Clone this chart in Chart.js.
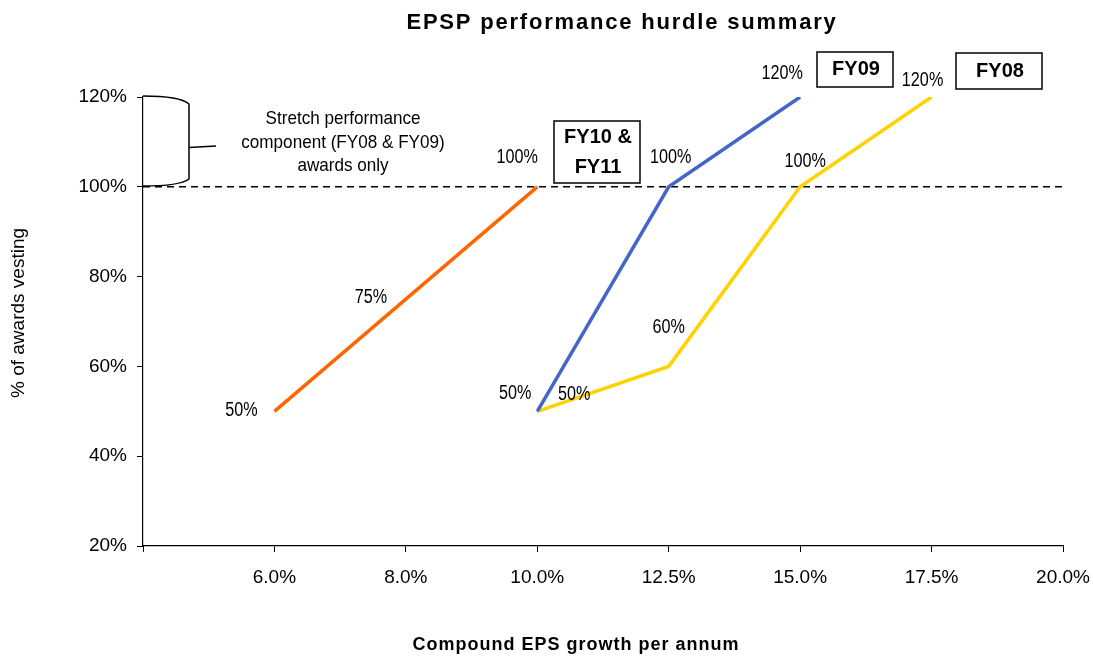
<!DOCTYPE html>
<html>
<head>
<meta charset="utf-8">
<script src="https://cdn.jsdelivr.net/npm/chart.js@4.4.1/dist/chart.umd.min.js"></script>
<style>
  html, body { margin: 0; padding: 0; background: #fff; }
  #wrap { width: 1093px; height: 656px; position: relative; }
</style>
</head>
<body>
<div id="wrap"><canvas id="c" width="1093" height="656"></canvas></div>
<script>
// ---- data ----
const xTickLabels = ['', '6.0%', '8.0%', '10.0%', '12.5%', '15.0%', '17.5%', '20.0%'];
const fy1011X = [1, 2, 3];
const fy1011Y = [50, 75, 100];
const fy09X = [3, 4, 5];
const fy09Y = [50, 100, 120];
const fy08X = [3, 4, 5, 6];
const fy08Y = [50, 60, 100, 120];
const yTicks = [20, 40, 60, 80, 100, 120];
const stretchLevel = 100;

const titleText = 'EPSP performance hurdle summary';
const xTitle = 'Compound EPS growth per annum';
const yTitle = '% of awards vesting';
const noteLines = ['Stretch performance', 'component (FY08 & FY09)', 'awards only'];

// label offsets (style only)
const labelOffsets = [
  [[-33, -1], [-35, -2], [-20, -29]],
  [[-22, -18], [2, -29], [-18, -24]],
  [[37, -17], [0, -39], [5, -25], [-9, -17]]
];

const pts = (xs, ys) => xs.map((x, i) => ({ x: x, y: ys[i] }));

const FONT = '"Liberation Sans", Arial, sans-serif';

function squeezeText(ctx, t, x, y, sx) {
  ctx.save();
  ctx.translate(x, y);
  ctx.scale(sx, 1);
  ctx.fillText(t, 0, 0);
  ctx.restore();
}

const overlay = {
  id: 'overlay',
  beforeDatasetsDraw(chart) {
    const ctx = chart.ctx, a = chart.chartArea;
    const y = chart.scales.y.getPixelForValue(stretchLevel);
    ctx.save();
    ctx.strokeStyle = '#000';
    ctx.lineWidth = 1.5;
    ctx.setLineDash([7, 5]);
    ctx.beginPath();
    ctx.moveTo(a.left, y);
    ctx.lineTo(a.right, y);
    ctx.stroke();
    ctx.restore();
  },
  afterDraw(chart) {
    const ctx = chart.ctx, a = chart.chartArea;
    ctx.save();
    ctx.fillStyle = '#000';
    ctx.textAlign = 'center';
    ctx.textBaseline = 'middle';
    // title
    ctx.font = 'bold 22px ' + FONT;
    try { ctx.letterSpacing = '1.8px'; } catch (e) {}
    ctx.fillText(titleText, 622, 23);
    // x title
    ctx.font = 'bold 18px ' + FONT;
    try { ctx.letterSpacing = '1px'; } catch (e) {}
    ctx.fillText(xTitle, 576, 645);
    try { ctx.letterSpacing = '0px'; } catch (e) {}
    // y title
    ctx.save();
    ctx.translate(19, 313);
    ctx.rotate(-Math.PI / 2);
    ctx.font = '19px ' + FONT;
    ctx.fillText(yTitle, 0, 0);
    ctx.restore();

    // data labels
    ctx.font = '20px ' + FONT;
    chart.data.datasets.forEach((ds, di) => {
      const meta = chart.getDatasetMeta(di);
      meta.data.forEach((el, i) => {
        const off = labelOffsets[di][i];
        squeezeText(ctx, ds.data[i].y + '%', el.x + off[0], el.y + off[1], 0.81);
      });
    });

    // boxes
    ctx.lineWidth = 1.5;
    ctx.strokeStyle = '#000';
    const boxes = [
      { x: 817, y: 52, w: 76, h: 35, lines: ['FY09'] },
      { x: 956, y: 53, w: 86, h: 36, lines: ['FY08'] },
      { x: 554, y: 121, w: 86, h: 62, lines: ['FY10 &', 'FY11'] }
    ];
    ctx.font = 'bold 20px ' + FONT;
    boxes.forEach(b => {
      ctx.fillStyle = '#fff';
      ctx.fillRect(b.x, b.y, b.w, b.h);
      ctx.strokeRect(b.x, b.y, b.w, b.h);
      ctx.fillStyle = '#000';
      const cx = b.x + b.w / 2, cy = b.y + b.h / 2;
      const lh = 30;
      b.lines.forEach((t, i) => {
        ctx.fillText(t, cx + 1, cy + (i - (b.lines.length - 1) / 2) * lh);
      });
    });

    // bracket
    ctx.lineWidth = 1.5;
    ctx.beginPath();
    ctx.moveTo(a.left, 96);
    ctx.quadraticCurveTo(180, 96, 189, 104);
    ctx.lineTo(189, 179);
    ctx.quadraticCurveTo(180, 186, a.left, 186);
    ctx.stroke();
    ctx.beginPath();
    ctx.moveTo(189, 147.5);
    ctx.lineTo(216, 146);
    ctx.stroke();

    // note text
    ctx.font = '19px ' + FONT;
    const ny = [119, 143, 166];
    noteLines.forEach((t, i) => squeezeText(ctx, t, 343, ny[i], 0.9));
    ctx.restore();
  }
};

new Chart(document.getElementById('c'), {
  type: 'line',
  data: {
    datasets: [
      { label: 'FY10 & FY11', data: pts(fy1011X, fy1011Y), borderColor: '#FF6600', borderWidth: 3.5 },
      { label: 'FY09', data: pts(fy09X, fy09Y), borderColor: '#4466C8', borderWidth: 3.5 },
      { label: 'FY08', data: pts(fy08X, fy08Y), borderColor: '#FFD200', borderWidth: 3.5 }
    ]
  },
  options: {
    responsive: false,
    animation: false,
    events: [],
    layout: { padding: { top: 97, right: 30, bottom: 0, left: 0 } },
    elements: { point: { radius: 0 }, line: { tension: 0, fill: false } },
    plugins: { legend: { display: false }, tooltip: { enabled: false } },
    scales: {
      x: {
        type: 'linear',
        min: 0, max: 7,
        afterFit: s => { s.height = 110; s.paddingLeft = 0; s.paddingRight = 0; },
        afterBuildTicks: s => { s.ticks = xTickLabels.map((_, i) => ({ value: i })); },
        ticks: {
          stepSize: 1,
          autoSkip: false,
          maxRotation: 0,
          padding: 14,
          color: '#000',
          font: { family: FONT, size: 19 },
          callback: v => xTickLabels[v]
        },
        grid: { drawOnChartArea: false, drawTicks: true, tickLength: 6, color: '#000', lineWidth: 1 },
        border: { display: true, color: '#000', width: 1.2 }
      },
      y: {
        min: 20, max: 120,
        afterFit: s => { s.width = 143; s.paddingTop = 0; s.paddingBottom = 0; },
        afterBuildTicks: s => { s.ticks = yTicks.map(v => ({ value: v })); },
        ticks: {
          padding: 10,
          color: '#000',
          font: { family: FONT, size: 19 },
          callback: v => v + '%'
        },
        grid: { drawOnChartArea: false, drawTicks: true, tickLength: 6, color: '#000', lineWidth: 1 },
        border: { display: true, color: '#000', width: 1.2 }
      }
    }
  },
  plugins: [overlay]
});
</script>
</body>
</html>
